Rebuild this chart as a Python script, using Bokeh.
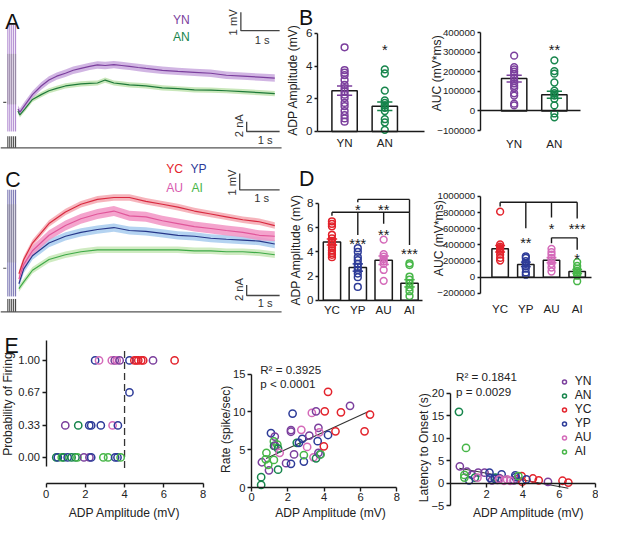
import numpy as np
from bokeh.plotting import figure
from bokeh.models import Range1d, FixedTicker, LinearAxis, BasicTickFormatter
from bokeh.embed import file_html
from bokeh.resources import INLINE
from bokeh.core.properties import value

# ======================= DATA =======================
# Panel A: mean ADP traces (time s, mV)
a_time = [0.45, 0.5, 0.625, 0.825, 1.05, 1.25, 1.45, 1.675, 1.875, 2.075, 2.3, 2.5, 2.7, 2.925,
          3.125, 3.325, 3.55, 3.75, 4.175, 4.575, 5.0, 5.425, 5.825, 6.25, 6.675, 7.075]
a_yn = [-0.37, -0.53, -0.16, 0.42, 0.89, 1.21, 1.42, 1.58, 1.74, 1.84, 1.95, 2.03, 2.0, 2.05,
        2.0, 1.95, 1.89, 1.84, 1.74, 1.68, 1.63, 1.58, 1.47, 1.42, 1.37, 1.32]
a_an = [-0.47, -0.68, -0.37, 0.16, 0.42, 0.63, 0.76, 0.89, 0.95, 1.0, 1.03, 1.05, 1.21, 1.05,
        1.0, 0.95, 0.92, 0.89, 0.79, 0.74, 0.68, 0.66, 0.63, 0.58, 0.53, 0.47]
a_sem = {"YN": 0.2, "AN": 0.14}

# Panel C: mean ADP traces
c_time = [0.475, 0.6, 0.825, 1.25, 1.675, 2.075, 2.5, 2.925, 3.325, 3.75, 4.175, 4.575, 5.0,
          5.425, 5.825, 6.25, 6.675, 7.075]
c_yc = [-0.33, 0.53, 1.53, 2.71, 3.41, 3.88, 4.18, 4.29, 4.29, 4.06, 3.88, 3.71, 3.47, 3.29, 3.12, 2.94, 2.82, 2.59]
c_au = [-0.65, 0.24, 1.06, 2.0, 2.59, 3.0, 3.29, 3.47, 3.18, 3.12, 2.88, 2.71, 2.53, 2.41, 2.29, 2.18, 2.0, 1.94]
c_yp = [-0.94, -0.04, 0.76, 1.53, 1.94, 2.18, 2.35, 2.47, 2.29, 2.24, 2.12, 2.0, 1.94, 1.82, 1.76, 1.71, 1.65, 1.47]
c_ai = [-1.24, -0.82, -0.12, 0.53, 0.82, 1.0, 1.12, 1.12, 1.12, 1.12, 1.12, 1.12, 1.06, 1.06, 1.0, 1.0, 0.94, 0.82]
c_sem = {"YC": 0.2, "AU": 0.3, "YP": 0.25, "AI": 0.2}

stim_t = [0.19, 0.24, 0.29, 0.34, 0.39]

# Panel B
b_groups = ["YN", "AN"]
b_amp_mean = [2.5, 1.55]
b_amp_sem = [0.28, 0.26]
b_amp_yn = [5.15, 3.75, 3.6, 3.45, 3.15, 2.85, 2.65, 2.45, 2.25, 2.05, 1.75, 1.55, 1.25, 1.0, 0.8, 0.6]
b_amp_an = [3.8, 3.55, 2.5, 1.9, 1.75, 1.6, 1.45, 1.25, 0.75, 0.55, 0.1]
b_auc_mean = [165000, 82000]
b_auc_sem = [17000, 18000]
b_auc_yn = [282000, 223000, 212000, 200000, 187000, 170000, 153000, 140000, 128000, 117000, 90000, 78000, 37000, 28000]
b_auc_an = [258000, 203000, 190000, 145000, 103000, 90000, 78000, 62000, 28000, -13000, -33000]
b_amp_star = ["*"]
b_amp_star_y = [5.26]
b_auc_star = ["**"]
b_auc_star_y = [333000]

# Panel D
d_groups = ["YC", "YP", "AU", "AI"]
d_amp_mean = [4.8, 2.7, 3.3, 1.4]
d_amp_sem = [0.25, 0.3, 0.35, 0.3]
d_amp_yc = [6.5, 6.3, 6.1, 5.4, 5.1, 4.9, 4.75, 4.6, 4.35, 4.1, 3.9, 3.75, 3.55]
d_amp_yp = [4.3, 4.0, 3.55, 3.3, 3.0, 2.75, 2.5, 2.2, 1.9, 1.1]
d_amp_au = [5.0, 3.8, 3.6, 3.4, 3.2, 3.0, 2.5, 1.6]
d_amp_ai = [3.05, 2.9, 1.95, 1.7, 1.4, 1.05, 0.75, 0.35]
d_auc_mean = [352000, 160000, 212000, 72000]
d_auc_sem = [40000, 28000, 32000, 25000]
d_auc_yc = [812000, 408000, 380000, 360000, 340000, 320000, 280000, 240000, 208000]
d_auc_yp = [260000, 240000, 200000, 168000, 140000, 108000, 60000, 32000]
d_auc_au = [352000, 312000, 280000, 240000, 208000, 168000, 120000, 72000]
d_auc_ai = [188000, 140000, 108000, 80000, 60000, 40000, 20000, -48000]

# significance brackets (x index, y value) and star labels
d_amp_br_x0 = [1, 1, 3, 0, 0, 1, 2, 3]
d_amp_br_y0 = [8.32, 8.32, 8.32, 7.26, 7.26, 7.26, 7.26, 7.26]
d_amp_br_x1 = [3, 1, 3, 3, 0, 1, 2, 3]
d_amp_br_y1 = [8.32, 8.08, 7.26, 7.26, 6.96, 5.38, 6.32, 4.56]
d_amp_star_x = [1, 2, 1, 2, 3]
d_amp_star_y = [7.76, 7.76, 4.98, 5.74, 4.18]
d_amp_star = ["*", "**", "***", "**", "***"]
d_auc_br_x0 = [0, 0, 1, 2, 3, 2, 2, 3]
d_auc_br_y0 = [928000, 928000, 928000, 928000, 928000, 488000, 488000, 488000]
d_auc_br_x1 = [3, 0, 1, 2, 3, 3, 2, 3]
d_auc_br_y1 = [928000, 876000, 608000, 740000, 728000, 488000, 420000, 340000]
d_auc_star_x = [1, 2, 3, 3]
d_auc_star_y = [480000, 652000, 652000, 280000]
d_auc_star = ["**", "*", "***", "*"]

# Panel E1: probability of firing
e1_amp = [2.5, 2.7, 3.35, 3.5, 3.6, 3.75, 4.25, 4.5, 4.6, 4.7, 4.85, 4.95, 5.45, 6.55,
          4.25,
          0.98, 1.64, 2.2, 2.3, 2.79, 3.39, 3.66,
          0.52, 0.6, 0.8, 0.9, 1.1, 1.3, 1.5, 1.6, 1.93, 2.21, 2.3, 2.92, 3.16, 3.52, 3.64, 3.8]
e1_prob = [1.0, 1.0, 1.0, 1.0, 1.0, 1.0, 1.0, 1.0, 1.0, 1.0, 1.0, 1.0, 1.0, 1.0,
           0.67,
           0.33, 0.33, 0.33, 0.33, 0.33, 0.33, 0.33,
           0.0, 0.0, 0.0, 0.0, 0.0, 0.0, 0.0, 0.0, 0.0, 0.0, 0.0, 0.0, 0.0, 0.0, 0.0, 0.0]
e1_grp = ["YP", "AU", "AU", "YN", "AU", "YN", "YP", "YC", "YC", "YC", "YC", "YC", "YN", "YC",
          "YP",
          "YN", "AN", "YP", "YP", "YP", "AU", "YP",
          "AN", "YP", "AI", "AN", "YP", "AN", "AN", "AI", "YN", "YN", "YP", "AI", "AI", "YP", "YP", "AI"]
e1_threshold = 4.0

# Panel E2: firing rate
e2_amp = [0.53, 0.53, 0.57, 0.96, 0.82, 0.78, 0.92, 1.07, 1.28, 1.23, 1.24, 1.42, 1.3, 1.46, 1.55, 1.23,
          1.46, 1.9, 2.17, 2.26, 2.17, 2.17, 2.34, 2.49, 2.61, 2.79, 2.74, 2.88, 2.88, 3.06, 3.18, 3.32,
          3.55, 3.41, 3.64, 3.68, 3.73, 3.55, 3.68, 3.77, 3.8, 3.98, 4.03, 4.21, 4.21, 4.62, 4.92, 5.42,
          6.22, 6.52]
e2_rate = [1.37, 0.34, 3.34, 2.27, 4.59, 3.73, 3.0, 7.2, 6.73, 6.09, 5.49, 5.66, 5.5, 5.14, 4.59, 3.64,
           2.36, 3.21, 3.13, 9.77, 7.59, 7.37, 4.37, 5.91, 5.91, 6.43, 7.63, 3.43, 4.29, 5.36, 6.86, 9.86,
           10.07, 3.99, 6.13, 7.89, 7.29, 3.86, 4.59, 4.37, 4.37, 5.44, 10.07, 12.64, 6.94, 7.42, 9.94, 10.8,
           7.42, 9.64]
e2_grp = ["AN", "AN", "YN", "YN", "AI", "AI", "AI", "YP", "YN", "AI", "AN", "AI", "YN", "AN", "AU", "AI",
          "AN", "YN", "YP", "YP", "YN", "YN", "YN", "AN", "YP", "YP", "AU", "YP", "AI", "AU", "YN", "AU",
          "YN", "AU", "YP", "YN", "AU", "AN", "YN", "YP", "AI", "YC", "YC", "YC", "YP", "YC", "YC", "YN",
          "YC", "YC"]
e2_fit_x = [0.8, 6.5]
e2_fit_y = [3.85, 10.1]

# Panel E3: latency to onset
e3_amp = [0.48, 0.87, 0.53, 0.92, 0.78, 0.78, 1.04, 1.19, 1.36, 1.5, 1.54, 1.89, 2.16, 2.2, 2.3, 2.45,
          2.6, 2.7, 2.48, 2.83, 2.7, 2.96, 3.13, 3.3, 3.5, 3.66, 3.58, 3.6, 3.75, 3.93, 3.96, 4.19,
          4.55, 4.87, 5.38, 6.18, 6.5]
e3_lat = [15.9, 7.9, 3.8, 2.6, 1.9, 1.3, 0.7, 1.9, 1.3, 1.3, 2.4, 2.4, 2.4, 1.2, 0.7, 1.0,
          0.8, 1.2, 1.3, 2.0, 0.9, 0.6, 0.9, 0.6, 0.7, 0.9, 1.8, 1.4, 1.65, 1.65, 0.4, 0.9,
          1.1, 0.7, 0.35, 0.6, 0.2]
e3_grp = ["AN", "AI", "YN", "YN", "AI", "AI", "YP", "YN", "AN", "AU", "YN", "YN", "YP", "YP", "YN", "YP",
          "YN", "YN", "AN", "YP", "AU", "AU", "AU", "AU", "YN", "YN", "YP", "YP", "AI", "YC", "YC", "YP",
          "YC", "YC", "YN", "YC", "YC"]
e3_fit_x = [0.5, 6.5]
e3_fit_y = [3.37, -1.07]
legend_order = ["YN", "AN", "YC", "YP", "AU", "AI"]

# ======================= STYLE / CANVAS =======================
W, H = 617, 536            # reference canvas (px)
S = 0.97                   # page scale (fits 8px body margin)
FONT = "Liberation Sans"
COLORS = {"YN": "#7b3f9d", "AN": "#17854c", "YC": "#e3232c", "YP": "#2d3b98", "AU": "#d46ab9", "AI": "#47b648"}
LINES = {"YN": "#7b3f9d", "AN": "#1f7a3a", "YC": "#d92a40", "YP": "#27388a", "AU": "#e0569a", "AI": "#3faa48"}
BANDS = {"YN": "#c9a8de", "AN": "#c0e3ae", "YC": "#f5a7b0", "YP": "#a7cbee", "AU": "#f294c4", "AI": "#c7e8b6"}
INK = "#1a1a1a"


def px(v):
    return max(0, int(round(v * S)))


def fs(v):
    return f"{v * S:.1f}px"


p = figure(width=px(W), height=px(H), x_range=Range1d(0, W), y_range=Range1d(H, 0),
           x_axis_location=None, y_axis_location=None, toolbar_location=None,
           output_backend="svg", min_border=0, title=None)
p.grid.grid_line_color = None
p.outline_line_color = None

xranges, yranges = {}, {}


def panel(name, L, R, x0, x1, T, B, y0, y1):
    """Map data box (x0..x1, y0..y1) onto the canvas rectangle L..R / B..T."""
    kx = (x1 - x0) / (R - L)
    ky = (y1 - y0) / (B - T)
    xranges[name] = Range1d(x0 - L * kx, x1 + (W - R) * kx)
    yranges[name] = Range1d(y0 - (H - B) * ky, y1 + T * ky)


panel("A", 0, 297, 0, 7.425, 0, 160, -2.895, 5.526)
panel("C", 0, 297, 0, 7.425, 160, 332, -3.294, 6.824)
panel("B1", 327, 437, -0.675, 1.976, 34, 135, 0, 6)
panel("B2", 495, 598, -0.843, 1.639, 33, 134, -100000, 400000)
panel("D1", 328, 435, -0.524, 3.487, 209, 309, 0, 8)
panel("D2", 495, 610, -0.774, 3.566, 202, 302, -200000, 1000000)
panel("E1", 47, 209, 0, 8, 371, 471, 0, 1)
panel("E2", 259, 409, 0, 8, 385, 502, 0, 15)
panel("E3", 464, 614, 0, 8, 405, 521, -5, 20)
p.extra_x_ranges = xranges
p.extra_y_ranges = yranges


def R(name):
    return dict(x_range_name=name, y_range_name=name)


def style(ax, tick_fs=12.0, tick_out=4, standoff=2):
    ax.axis_line_width = 1.4
    ax.axis_line_color = INK
    ax.major_tick_line_width = 1.4
    ax.major_tick_line_color = INK
    ax.major_tick_out = px(tick_out)
    ax.major_tick_in = 0
    ax.minor_tick_line_color = None
    ax.major_label_text_font = FONT
    ax.major_label_text_font_size = fs(tick_fs)
    ax.major_label_text_color = "#222222"
    ax.major_label_standoff = px(standoff)
    ax.formatter = BasicTickFormatter(use_scientific=False)


def yaxis(name, xloc, ticks, bounds, tick_fs=12.0, overrides=None, tick_out=4, standoff=2):
    ax = LinearAxis(fixed_location=xloc, ticker=FixedTicker(ticks=ticks), bounds=bounds, **R(name))
    style(ax, tick_fs, tick_out, standoff)
    if overrides:
        ax.major_label_overrides = overrides
    p.add_layout(ax, "left")
    return ax


def xaxis(name, yloc, ticks, bounds, tick_fs=12.0, overrides=None, tick_out=4, standoff=2, line=True):
    ax = LinearAxis(fixed_location=yloc, ticker=FixedTicker(ticks=ticks), bounds=bounds, **R(name))
    style(ax, tick_fs, tick_out, standoff)
    if overrides:
        ax.major_label_overrides = overrides
    if not line:
        ax.axis_line_color = None
    p.add_layout(ax, "below")
    return ax


def rtext(x, y, s, size=12.5, color="#222222", align="center", baseline="middle", angle=0.0, name=None):
    kw = R(name) if name else {}
    p.text(x=[x], y=[y], text=[s], text_font=value(FONT), text_font_size=value(fs(size)),
           text_color=color, text_align=align, text_baseline=baseline, angle=angle, **kw)


# ======================= TRACE PANELS =======================
def trace_panel(name, time, series, sems, stim_top, stim_mid, stim_color, pulse, base_y, vbar, ibar, legend_items):
    for g, vals in series:
        v = np.array(vals)
        p.varea(x=time, y1=v - sems[g], y2=v + sems[g], fill_color=BANDS[g], fill_alpha=0.85, **R(name))
    for g, vals in series:
        p.line(time, vals, line_color=LINES[g], line_width=1.2, **R(name))
    p.segment(x0=stim_t, y0=stim_top[0], x1=stim_t, y1=stim_top[1], line_color=stim_color, line_width=1.0, **R(name))
    p.segment(x0=stim_t, y0=stim_mid[0], x1=stim_t, y1=stim_mid[1], line_color="#8d8a92", line_width=1.0,
              line_alpha=0.75, **R(name))
    p.segment(x0=stim_t, y0=pulse[0], x1=stim_t, y1=pulse[1], line_color="#333333", line_width=1.0, **R(name))
    p.line([0.0, 7.25], [base_y, base_y], line_color="#555555", line_width=1.2, **R(name))
    p.line([0.07, 0.15], [0.0, 0.0], line_color="#555555", line_width=1.2, **R(name))
    vx, vy0, vy1, vx1 = vbar
    p.line([vx, vx, vx1], [vy0, vy1, vy1], line_color="#444444", line_width=1.3, **R(name))
    ix, iy0, iy1, ix1 = ibar
    p.line([ix, ix, ix1], [iy0, iy1, iy1], line_color="#444444", line_width=1.3, **R(name))
    rtext(vx - 0.2, (vy0 + vy1) / 2 - 0.05, "1 mV", size=11.5, color="#333333", angle=np.pi / 2, name=name)
    rtext((vx + vx1) / 2 + 0.05, vy1 - 0.5, "1 s", size=11.5, color="#333333", name=name)
    rtext(ix - 0.2, (iy0 + iy1) / 2 + 0.05, "2 nA", size=11.5, color="#333333", angle=np.pi / 2, name=name)
    rtext((ix + ix1) / 2 + 0.05, iy1 - 0.45, "1 s", size=11.5, color="#333333", name=name)
    for (s, x, y) in legend_items:
        rtext(x, y, s, size=12.5, color=COLORS[s] if s != "AU" else "#d85aae", align="left", name=name)


trace_panel("A", a_time, [("AN", a_an), ("YN", a_yn)], a_sem,
            (-1.58, 4.21), (-0.11, 2.63), "#a97fcc", (-2.47, -1.84), -2.47,
            (6.2, 4.89, 3.89, 7.2), (6.35, -1.05, -1.58, 7.2),
            [("YN", 4.45, 4.47), ("AN", 4.45, 3.53)])
trace_panel("C", c_time, [("AI", c_ai), ("YP", c_yp), ("AU", c_au), ("YC", c_yc)], c_sem,
            (-1.71, 4.76), (0.35, 3.88), "#6b66aa", (-2.65, -1.86), -2.65,
            (6.17, 5.75, 4.75, 7.2), (6.35, -1.02, -1.65, 7.2),
            [("YC", 4.275, 6.0), ("YP", 4.9, 6.0), ("AU", 4.275, 4.88), ("AI", 4.925, 4.88)])


# ======================= BAR PANELS =======================
def bar_panel(name, groups, means, sems, pts, bar_w, stars, brackets=None):
    xs = list(range(len(groups)))
    p.vbar(x=xs, top=means, bottom=0, width=bar_w, fill_color="white", line_color=INK, line_width=1.5, **R(name))
    for i, g in enumerate(groups):
        vals = pts[i]
        p.scatter(x=[xs[i]] * len(vals), y=vals, marker="circle", size=7 * S, fill_color=None,
                  line_color=COLORS[g], line_width=1.5, **R(name))
    lo = [m - s for m, s in zip(means, sems)]
    hi = [m + s for m, s in zip(means, sems)]
    cols = [COLORS[g] for g in groups]
    cw = bar_w * 0.3
    p.segment(x0=xs, y0=lo, x1=xs, y1=hi, line_color=cols, line_width=1.5, **R(name))
    p.segment(x0=[x - cw for x in xs], y0=hi, x1=[x + cw for x in xs], y1=hi, line_color=cols, line_width=1.5, **R(name))
    p.segment(x0=[x - cw for x in xs], y0=lo, x1=[x + cw for x in xs], y1=lo, line_color=cols, line_width=1.5, **R(name))
    if brackets is not None:
        p.segment(x0=brackets[0], y0=brackets[1], x1=brackets[2], y1=brackets[3], line_color=INK,
                  line_width=1.4, **R(name))
    sx, sy, st = stars
    p.text(x=sx, y=sy, text=st, text_font=value(FONT), text_font_size=value(fs(15)), text_color=INK,
           text_align="center", text_baseline="middle", y_offset=px(4), **R(name))
    return {i: g for i, g in enumerate(groups)}, xs


ov, xs = bar_panel("B1", b_groups, b_amp_mean, b_amp_sem, [b_amp_yn, b_amp_an], 0.63, ([1], b_amp_star_y, b_amp_star))
yaxis("B1", -0.675, [0, 2, 4, 6], (0, 6), tick_fs=12, tick_out=3, standoff=2)
xaxis("B1", 0, xs, (-0.675, 1.976), tick_fs=12, overrides=ov, tick_out=0, standoff=5)

ov, xs = bar_panel("B2", b_groups, b_auc_mean, b_auc_sem, [b_auc_yn, b_auc_an], 0.63, ([1], b_auc_star_y, b_auc_star))
yaxis("B2", -0.843, [-100000, 0, 100000, 200000, 300000, 400000], (-100000, 400000), tick_fs=10, tick_out=3, standoff=2)
xaxis("B2", -100000, xs, (-0.843, 1.639), tick_fs=12, overrides=ov, tick_out=0, standoff=6, line=False)
xaxis("B2", 0, [], (-0.843, 1.639), tick_out=0)

ov, xs = bar_panel("D1", d_groups, d_amp_mean, d_amp_sem, [d_amp_yc, d_amp_yp, d_amp_au, d_amp_ai], 0.67,
                   (d_amp_star_x, d_amp_star_y, d_amp_star),
                   brackets=(d_amp_br_x0, d_amp_br_y0, d_amp_br_x1, d_amp_br_y1))
yaxis("D1", -0.524, [0, 2, 4, 6, 8], (0, 8), tick_fs=12, tick_out=3, standoff=2)
xaxis("D1", 0, xs, (-0.524, 3.487), tick_fs=12, overrides=ov, tick_out=0, standoff=3)

ov, xs = bar_panel("D2", d_groups, d_auc_mean, d_auc_sem, [d_auc_yc, d_auc_yp, d_auc_au, d_auc_ai], 0.64,
                   (d_auc_star_x, d_auc_star_y, d_auc_star),
                   brackets=(d_auc_br_x0, d_auc_br_y0, d_auc_br_x1, d_auc_br_y1))
yaxis("D2", -0.774, [-200000, 0, 200000, 400000, 600000, 800000, 1000000], (-200000, 1000000),
      tick_fs=10, tick_out=3, standoff=2)
xaxis("D2", -200000, xs, (-0.774, 3.566), tick_fs=12, overrides=ov, tick_out=0, standoff=9, line=False)
xaxis("D2", 0, [], (-0.774, 3.566), tick_out=0)


# ======================= PANEL E =======================
def circles(name, x, y, grp, legend=None):
    extra = {} if legend is None else {"legend_label": legend}
    p.scatter(x=x, y=y, marker="circle", size=7.5 * S, fill_color=None,
              line_color=[COLORS[g] for g in grp], line_width=1.5, **R(name), **extra)


p.segment(x0=[e1_threshold], y0=[-0.11], x1=[e1_threshold], y1=[1.11], line_color="#333333",
          line_width=1.3, line_dash="7 4", **R("E1"))
circles("E1", e1_amp, e1_prob, e1_grp)
yaxis("E1", 0, [0.0, 0.33, 0.67, 1.0], (-0.09, 1.21), tick_fs=11.5,
      overrides={0.0: "0.00", 0.33: "0.33", 0.67: "0.67", 1.0: "1.00"})
xaxis("E1", -0.27, [0, 2, 4, 6, 8], (0, 8), tick_fs=11.5)

p.line(e2_fit_x, e2_fit_y, line_color="#333333", line_width=1.1, **R("E2"))
circles("E2", e2_amp, e2_rate, e2_grp)
yaxis("E2", 0, [0, 5, 10, 15], (0, 15), tick_fs=11.5)
xaxis("E2", 0, [0, 2, 4, 6, 8], (0, 8), tick_fs=11.5, standoff=1)
rtext(0.48, 15.64, "R\u00b2 = 0.3925", size=12, align="left", name="E2")
rtext(0.48, 13.72, "p < 0.0001", size=12, align="left", name="E2")

p.line(e3_fit_x, e3_fit_y, line_color="#333333", line_width=1.1, **R("E3"))
for g in legend_order:
    gx = [a for a, gg in zip(e3_amp, e3_grp) if gg == g]
    gy = [b for b, gg in zip(e3_lat, e3_grp) if gg == g]
    circles("E3", gx, gy, [g] * len(gx), legend=g)
yaxis("E3", 0, [-5, 0, 5, 10, 15, 20], (-5, 20), tick_fs=11.5)
xaxis("E3", 0, [2, 4, 6, 8], (0, 8), tick_fs=11.5, standoff=3)
rtext(0.32, 23.7, "R\u00b2 = 0.1841", size=12, align="left", name="E3")
rtext(0.32, 20.5, "p = 0.0029", size=12, align="left", name="E3")

lg = p.legend[0]
lg.location = (576 * S, (H - 463) * S - 9)
lg.border_line_color = None
lg.background_fill_alpha = 0
lg.padding = 0
lg.margin = 0
lg.spacing = 0
lg.glyph_width = px(10)
lg.glyph_height = px(13.3)
lg.label_height = px(13.3)
lg.label_standoff = px(6)
lg.label_text_font = FONT
lg.label_text_font_size = fs(12.5)
lg.label_text_color = "#222222"

# ======================= AXIS TITLES & PANEL LETTERS (canvas px) =======================
rtext(302, 82, "ADP Amplitude (mV)", size=12.5, angle=np.pi / 2)
rtext(450, 75, "AUC (mV*ms)", size=12.5, angle=np.pi / 2)
rtext(305, 257, "ADP Amplitude (mV)", size=12.5, angle=np.pi / 2)
rtext(452, 245, "AUC (mV*ms)", size=12.5, angle=np.pi / 2)
rtext(8, 416, "Probability of Firing", size=12.5, angle=np.pi / 2)
rtext(233, 442, "Rate (spike/sec)", size=12.5, angle=np.pi / 2)
rtext(437, 461, "Latency to Onset (s)", size=12.5, angle=np.pi / 2)
rtext(128, 528, "ADP Amplitude (mV)", size=12.5)
rtext(341, 528, "ADP Amplitude (mV)", size=12.5)
rtext(545, 528, "ADP Amplitude (mV)", size=12.5)
for L, lx, ly in [("A", 5, 22), ("B", 308, 18.5), ("C", 5, 185), ("D", 308, 184.5), ("E", 4, 356)]:
    rtext(lx, ly, L, size=22, color="#111111", align="left", baseline="alphabetic")

open("out.html", "w").write(file_html(p, INLINE))
